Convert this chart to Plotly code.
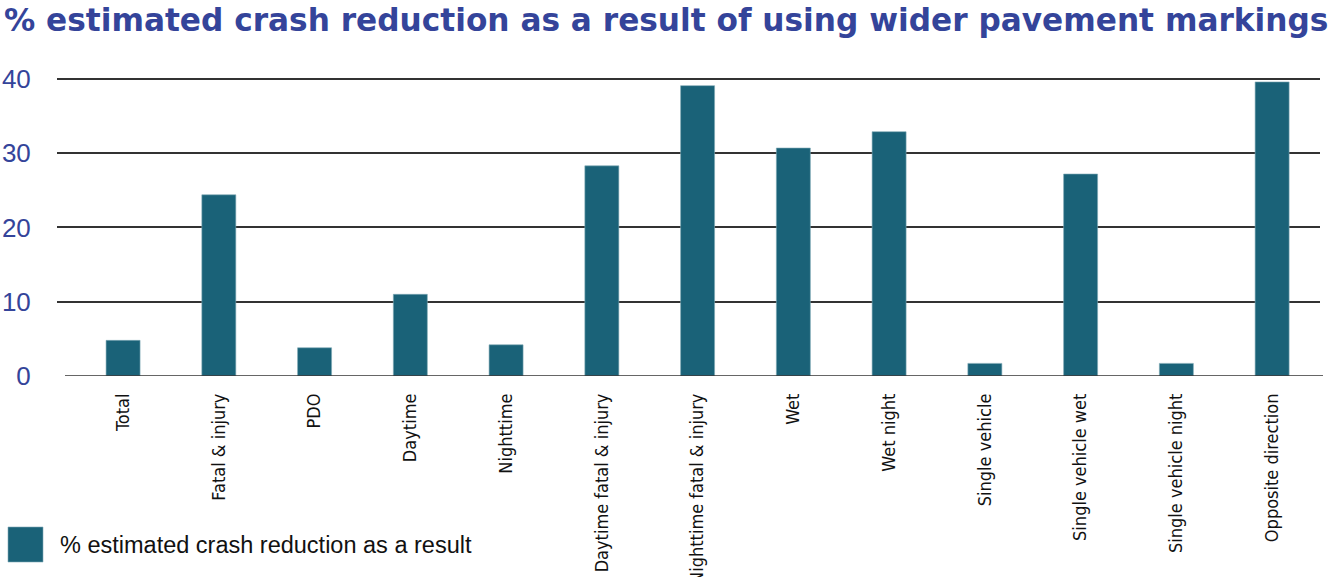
import plotly.graph_objects as go

# Crash-reduction estimates by crash type (%)
categories = [
    "Total", "Fatal & injury", "PDO", "Daytime", "Nighttime",
    "Daytime fatal & injury", "Nighttime fatal & injury", "Wet", "Wet night",
    "Single vehicle", "Single vehicle wet", "Single vehicle night",
    "Opposite direction",
]
reduction_pct = [4.8, 24.4, 3.8, 11.0, 4.2, 28.3, 39.1, 30.7, 32.9, 1.7, 27.2, 1.7, 39.6]
y_ticks = [0, 10, 20, 30, 40]

series_name = "% estimated crash reduction as a result"
title_text = "% estimated crash reduction as a result of using wider pavement markings"

BAR_COLOR = "#1a6278"
TITLE_COLOR = "#34449a"
GRID_COLOR = "#333333"

W, H = 1330, 577
Y_MAX = 40.4
# plot area in pixels
PX_L, PX_R = 57, 1320
PY_B = 376
PY_T = PY_B - (PY_B - 79) * Y_MAX / 40  # keeps the 40 line at y=79

fig = go.Figure(
    go.Bar(
        x=list(range(len(categories))),
        y=reduction_pct,
        name=series_name,
        marker=dict(color=BAR_COLOR, line=dict(color="#7fa9b6", width=0.6)),
        showlegend=False,
    )
)

fig.update_layout(
    width=W,
    height=H,
    paper_bgcolor="white",
    plot_bgcolor="white",
    bargap=0.645,
    margin=dict(l=PX_L, r=W - PX_R, t=PY_T, b=H - PY_B),
    font=dict(family="Liberation Sans, Arial, sans-serif"),
)

fig.update_xaxes(
    range=[-0.69, 12.5],
    tickmode="array",
    tickvals=list(range(len(categories))),
    ticktext=categories,
    tickangle=-90,
    tickfont=dict(family="Liberation Sans Narrow, DejaVu Sans Condensed, sans-serif",
                  size=18, color="#111111"),
    ticks="",
    ticklen=0,
    ticklabelstandoff=13,
    showgrid=False,
    showline=False,
    zeroline=False,
    automargin=False,
)

fig.update_yaxes(
    range=[0, Y_MAX],
    tickmode="array",
    tickvals=y_ticks,
    ticktext=[str(v) for v in y_ticks],
    tickfont=dict(family="Liberation Sans, Arial, sans-serif", size=26, color=TITLE_COLOR),
    showgrid=True,
    gridcolor=GRID_COLOR,
    gridwidth=1.5,
    zeroline=False,
    showline=False,
    ticks="outside",
    ticklen=20,
    tickcolor="rgba(0,0,0,0)",
    automargin=False,
)

# baseline under the bars, slightly wider than the grid
fig.add_shape(type="line", xref="paper", yref="y",
              x0=(65 - PX_L) / (PX_R - PX_L), x1=(1323 - PX_L) / (PX_R - PX_L),
              y0=0, y1=0, line=dict(color=GRID_COLOR, width=1.5))

# title
fig.add_annotation(
    text="<b>" + title_text + "</b>",
    xref="paper", yref="paper",
    x=-(PX_L - 2) / (PX_R - PX_L), y=1 + (PY_T - 20) / (PY_B - PY_T),
    xanchor="left", yanchor="middle", showarrow=False,
    font=dict(family="DejaVu Sans, sans-serif", size=31.2, color=TITLE_COLOR),
)

# legend swatch and label
lx0 = (8 - PX_L) / (PX_R - PX_L)
lx1 = (43 - PX_L) / (PX_R - PX_L)
ly0 = -(562 - PY_B) / (PY_B - PY_T)
ly1 = -(527 - PY_B) / (PY_B - PY_T)
fig.add_shape(type="rect", xref="paper", yref="paper",
              x0=lx0, x1=lx1, y0=ly0, y1=ly1,
              fillcolor=BAR_COLOR, line=dict(color="#7fa9b6", width=0.6))
fig.add_annotation(
    text=series_name,
    xref="paper", yref="paper",
    x=(58 - PX_L) / (PX_R - PX_L), y=-(545 - PY_B) / (PY_B - PY_T),
    xanchor="left", yanchor="middle", showarrow=False,
    font=dict(family="Liberation Sans, Arial, sans-serif", size=23.5, color="#111111"),
)

fig.write_html("out.html")
